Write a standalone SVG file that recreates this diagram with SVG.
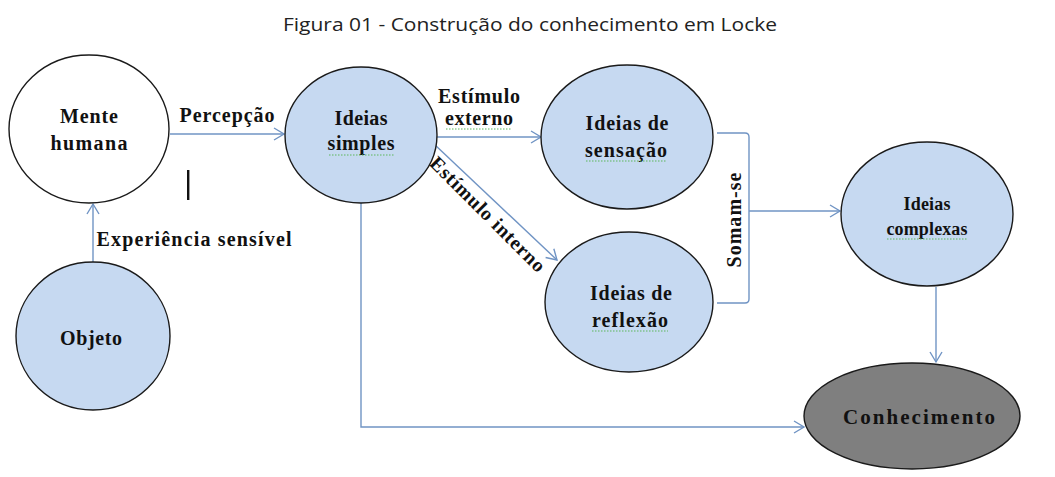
<svg xmlns="http://www.w3.org/2000/svg" width="1055" height="477" viewBox="0 0 1055 477">
<defs>
<style>
.node{stroke:#1a1a1a;stroke-width:1.4}
.blue{fill:#c6d9f1}
.white{fill:#ffffff}
.gray{fill:#7f7f7f}
.t{font-family:"Liberation Serif","Times New Roman",serif;font-weight:bold;font-size:20px;fill:#111;text-anchor:middle}
.c{fill:none;stroke:#7094c4;stroke-width:1.4}
.sq{fill:none;stroke:#5cb85c;stroke-width:1.2;stroke-dasharray:1.5 1.5}
.title{font-family:"Open Sans","Noto Sans",sans-serif;font-size:19px;fill:#222;text-anchor:middle}
</style>
<marker id="arr" markerWidth="14" markerHeight="14" refX="11" refY="7" orient="auto" markerUnits="userSpaceOnUse">
<path d="M1,1 L11,7 L1,13" fill="none" stroke="#7094c4" stroke-width="1.4"/>
</marker>
</defs>
<rect width="1055" height="477" fill="#ffffff"/>
<text class="title" x="530" y="31" textLength="494" lengthAdjust="spacingAndGlyphs">Figura 01 - Construção do conhecimento em Locke</text>

<g id="connectors">
<line class="c" x1="170" y1="134" x2="284" y2="134" marker-end="url(#arr)"/>
<line class="c" x1="93" y1="263" x2="93" y2="204" marker-end="url(#arr)"/>
<line class="c" x1="437" y1="137" x2="541" y2="137" marker-end="url(#arr)"/>
<line class="c" x1="434" y1="144" x2="557" y2="260" marker-end="url(#arr)"/>
<path class="c" d="M361,203 L361,427 L804,427" marker-end="url(#arr)"/>
<path class="c" d="M717,133 L745,133 Q749,133 749,137 L749,299 Q749,303 745,303 L717,303"/>
<line class="c" x1="749" y1="211" x2="840" y2="211" marker-end="url(#arr)"/>
<line class="c" x1="936" y1="287" x2="936" y2="362" marker-end="url(#arr)"/>
</g>

<g id="labels">
<text class="t" x="227" y="122" textLength="95" lengthAdjust="spacing">Percepção</text>
<text class="t" x="194" y="246" textLength="195" lengthAdjust="spacing">Experiência sensível</text>
<text class="t" x="479" y="103" textLength="82" lengthAdjust="spacing">Estímulo</text>
<text class="t" x="479" y="125" textLength="68" lengthAdjust="spacing">externo</text>
<path class="sq" d="M446,129 L512,129"/>
<text class="t" transform="translate(483,219) rotate(45)" x="0" y="0" textLength="154" lengthAdjust="spacing">Estímulo interno</text>
<text class="t" transform="translate(741,220) rotate(-90)" x="0" y="0" textLength="95" lengthAdjust="spacing">Somam-se</text>
<rect x="187" y="170" width="2.4" height="30" fill="#111"/>
</g>

<g id="mente-humana">
<ellipse class="node white" cx="89" cy="129" rx="80" ry="74"/>
<text class="t" x="89" y="123" textLength="58" lengthAdjust="spacing">Mente</text>
<text class="t" x="89" y="150" textLength="77" lengthAdjust="spacing">humana</text>
</g>

<g id="objeto">
<ellipse class="node blue" cx="93" cy="336" rx="77" ry="74"/>
<text class="t" x="91" y="345" textLength="62" lengthAdjust="spacing">Objeto</text>
</g>

<g id="ideias-simples">
<ellipse class="node blue" cx="361" cy="135" rx="76" ry="68"/>
<text class="t" x="361" y="125" textLength="53" lengthAdjust="spacing">Ideias</text>
<text class="t" x="361" y="150" textLength="67" lengthAdjust="spacing">simples</text>
<path class="sq" d="M329,155 L395,155"/>
</g>

<g id="ideias-sensacao">
<ellipse class="node blue" cx="627" cy="137" rx="86" ry="72"/>
<text class="t" x="627" y="130" textLength="83" lengthAdjust="spacing">Ideias de</text>
<text class="t" x="626" y="157" textLength="82" lengthAdjust="spacing">sensação</text>
<path class="sq" d="M586,161 L667,161"/>
</g>

<g id="ideias-reflexao">
<ellipse class="node blue" cx="629" cy="302" rx="84" ry="70"/>
<text class="t" x="631" y="300" textLength="82" lengthAdjust="spacing">Ideias de</text>
<text class="t" x="630" y="327" textLength="76" lengthAdjust="spacing">reflexão</text>
<path class="sq" d="M592,331 L668,331"/>
</g>

<g id="ideias-complexas">
<ellipse class="node blue" cx="927" cy="214" rx="86" ry="72"/>
<text class="t" x="927" y="210" style="font-size:18px" textLength="47" lengthAdjust="spacing">Ideias</text>
<text class="t" x="927" y="235" style="font-size:18px" textLength="81" lengthAdjust="spacing">complexas</text>
<path class="sq" d="M887,239 L968,239"/>
</g>

<g id="conhecimento">
<ellipse class="node gray" cx="912" cy="416" rx="108" ry="53"/>
<text class="t" x="919" y="424" style="font-size:21px" textLength="152" lengthAdjust="spacing">Conhecimento</text>
</g>
</svg>
